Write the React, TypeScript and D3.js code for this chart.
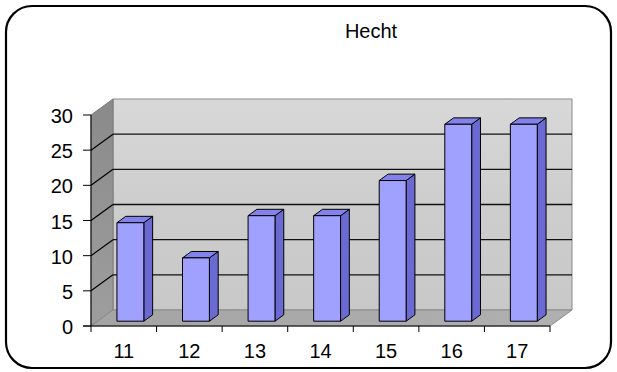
import React from "react";
import * as d3 from "d3";

const title = "Hecht";
const categories = ["11", "12", "13", "14", "15", "16", "17"];
const values = [14, 9, 15, 15, 20, 28, 28];
const yTicks = [0, 5, 10, 15, 20, 25, 30];

const W = 617;
const H = 372;
const DX = 22;
const DY = -16;

export default function App() {
  const x = d3.scaleBand<string>().domain(categories).range([91, 550]).paddingInner(0).paddingOuter(0);
  const y = d3.scaleLinear().domain([0, 30]).range([326, 115]);
  const P = (px: number, py: number, z: number): [number, number] => [px + DX * z, py + DY * z];
  const pts = (arr: [number, number][]) => arr.map((p) => p.join(",")).join(" ");

  const x0 = x.range()[0];
  const x1 = x.range()[1];
  const yb = y(0);
  const yt = y(30);

  const zF = 0.3;
  const zB = 0.7;
  const bw = x.bandwidth() * 0.41;
  const font = "'Liberation Sans', Arial, sans-serif";

  return (
    <svg width={W} height={H} style={{ position: "absolute", left: 0, top: 0 }} xmlns="http://www.w3.org/2000/svg">
      <defs>
        <linearGradient id="back" x1="0" y1="0" x2="0" y2="1">
          <stop offset="0" stopColor="#d8d8d8" />
          <stop offset="0.5" stopColor="#cdcdcd" />
          <stop offset="1" stopColor="#c8c8c8" />
        </linearGradient>
        <linearGradient id="left" x1="0" y1="0" x2="0" y2="1">
          <stop offset="0" stopColor="#8a8a8a" />
          <stop offset="1" stopColor="#9e9e9e" />
        </linearGradient>
        <linearGradient id="floor" x1="0" y1="0" x2="1" y2="0">
          <stop offset="0" stopColor="#a4a4a4" />
          <stop offset="1" stopColor="#b0b0b0" />
        </linearGradient>
      </defs>
      <rect x={0} y={0} width={W} height={H} fill="#ffffff" />
      <rect x={6} y={6} width={605} height={362} rx={26} ry={26} fill="#ffffff" stroke="#000" strokeWidth={2.2} />

      {/* walls */}
      <polygon points={pts([P(x0, yt, 1), P(x1, yt, 1), P(x1, yb, 1), P(x0, yb, 1)])} fill="url(#back)" stroke="#8a8a8a" strokeWidth={1} />
      <polygon points={pts([P(x0, yt, 0), P(x0, yt, 1), P(x0, yb, 1), P(x0, yb, 0)])} fill="url(#left)" stroke="#7a7a7a" strokeWidth={1} />
      <polygon points={pts([P(x0, yb, 0), P(x0, yb, 1), P(x1, yb, 1), P(x1, yb, 0)])} fill="url(#floor)" stroke="#8a8a8a" strokeWidth={1} />

      {/* gridlines */}
      {yTicks.filter((t) => t > 0 && t < 30).map((t) => {
        const a = P(x0, y(t), 0);
        const b = P(x0, y(t), 1);
        const c = P(x1, y(t), 1);
        return (
          <g key={t}>
            <line x1={a[0]} y1={a[1]} x2={b[0]} y2={b[1]} stroke="#000" strokeWidth={1.2} />
            <line x1={b[0]} y1={b[1]} x2={c[0]} y2={c[1]} stroke="#111" strokeWidth={1.4} />
          </g>
        );
      })}

      {/* bars */}
      {categories.map((c, i) => {
        const v = values[i];
        const bx0 = (x(c) as number) + (x.bandwidth() - bw) / 2;
        const bx1 = bx0 + bw;
        const ty = y(v);
        const front = [P(bx0, ty, zF), P(bx1, ty, zF), P(bx1, yb, zF), P(bx0, yb, zF)] as [number, number][];
        const side = [P(bx1, ty, zF), P(bx1, ty, zB), P(bx1, yb, zB), P(bx1, yb, zF)] as [number, number][];
        const top = [P(bx0, ty, zF), P(bx0, ty, zB), P(bx1, ty, zB), P(bx1, ty, zF)] as [number, number][];
        return (
          <g key={c} stroke="#000" strokeWidth={1} strokeLinejoin="round">
            <polygon points={pts(side)} fill="#6a6ad2" />
            <polygon points={pts(top)} fill="#8282ea" />
            <polygon points={pts(front)} fill="#a0a0ff" />
          </g>
        );
      })}

      {/* axes */}
      <line x1={x0} y1={yt} x2={x0} y2={yb} stroke="#000" strokeWidth={1} />
      <line x1={x0 - 8} y1={yb} x2={x1} y2={yb} stroke="#000" strokeWidth={1} />
      {yTicks.map((t) => (
        <g key={t}>
          <line x1={x0 - 8} y1={y(t)} x2={x0} y2={y(t)} stroke="#000" strokeWidth={1} />
          <text x={73} y={y(t) + 1} textAnchor="end" dominantBaseline="central" fontFamily={font} fontSize={20} fill="#000">
            {t}
          </text>
        </g>
      ))}
      {[...categories.map((c) => x(c) as number), x1].map((px, i) => (
        <line key={i} x1={px} y1={yb} x2={px} y2={yb + 6} stroke="#000" strokeWidth={1} />
      ))}
      {categories.map((c) => (
        <text key={c} x={(x(c) as number) + x.bandwidth() / 2} y={358} textAnchor="middle" fontFamily={font} fontSize={20} fill="#000">
          {c}
        </text>
      ))}
      <text x={371} y={38} textAnchor="middle" fontFamily={font} fontSize={20} fill="#000">
        {title}
      </text>
    </svg>
  );
}
